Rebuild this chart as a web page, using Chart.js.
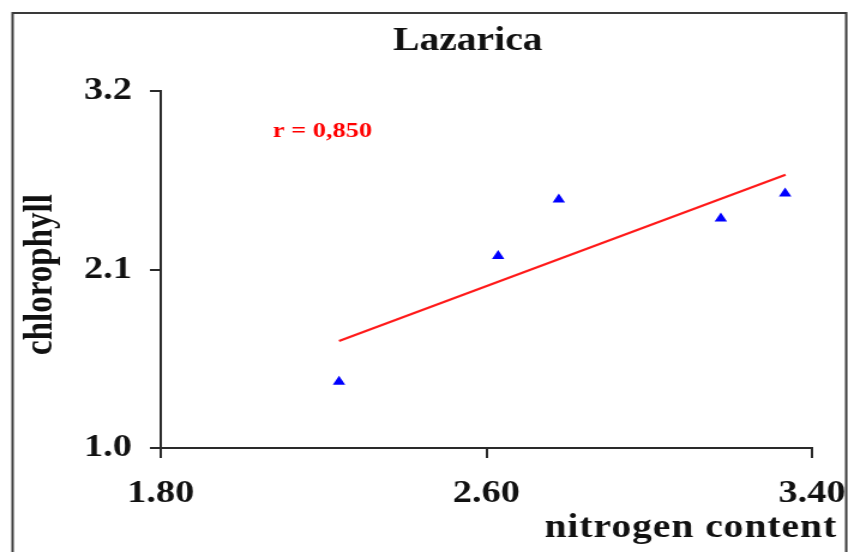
<!DOCTYPE html>
<html>
<head>
<meta charset="utf-8">
<title>Lazarica</title>
<script src="https://cdn.jsdelivr.net/npm/chart.js@4.4.1/dist/chart.umd.min.js"></script>
<style>
    html, body { margin: 0; padding: 0; background: #fff; overflow: hidden; }
    /* the original figure is drawn 1.2x wider than tall, text included */
    #wrap {
        width: 707px;
        height: 552px;
        transform: scaleX(1.1994);
        transform-origin: 0 0;
    }
</style>
</head>
<body>
<div id="wrap"><canvas id="chart" width="707" height="552"></canvas></div>
<script>
// --- Data ---

const nitrogen = [2.238, 2.629, 2.778, 3.176, 3.334];
const chlorophyll = [1.408, 2.183, 2.531, 2.414, 2.568];

// regression line end points
const trendX = [2.238, 3.335];
const trendY = [1.660, 2.684];

const xTicks = [1.80, 2.60, 3.40];
const yTicks = [1.0, 2.1, 3.2];

const TITLE = "Lazarica";
const R_LABEL = "r = 0,850";
const X_TITLE = "nitrogen content";
const Y_TITLE = "chlorophyll";

const SERIF = "'Liberation Serif', 'Times New Roman', serif";
const AXIS_COLOR = "#2a2a2a";


// --- Text and frame drawn on top of the chart ---

const decorations = {
    id: "decorations",
    afterDraw(chart) {
        const ctx = chart.ctx;
        ctx.save();

        // outer frame
        ctx.strokeStyle = "#3a3a3a";
        ctx.lineWidth = 2;
        ctx.strokeRect(10.5, 13, 695, 560);

        ctx.fillStyle = "#111";
        ctx.font = "bold 33px " + SERIF;
        ctx.textAlign = "center";
        ctx.textBaseline = "alphabetic";
        ctx.fillText(TITLE, 390, 50);

        // correlation coefficient
        ctx.fillStyle = "#ff0000";
        ctx.font = "bold 22px " + SERIF;
        ctx.textAlign = "left";
        ctx.fillText(R_LABEL, 227.5, 137);

        // x axis title, right aligned under the last tick
        ctx.fillStyle = "#111";
        ctx.font = "bold 33px " + SERIF;
        ctx.textAlign = "right";
        if ("letterSpacing" in ctx) ctx.letterSpacing = "0.8px";
        ctx.fillText(X_TITLE, 698, 537);
        if ("letterSpacing" in ctx) ctx.letterSpacing = "0px";

        // y axis title
        ctx.translate(43, 274.5);
        ctx.rotate(-Math.PI / 2);
        ctx.textAlign = "center";
        ctx.fillText(Y_TITLE, 0, 0);

        ctx.restore();
    },
};

const axisStyle = {
    grid: {
        drawOnChartArea: false,
        drawTicks: true,
        color: AXIS_COLOR,
        lineWidth: 2,
    },
    border: { display: true, color: AXIS_COLOR, width: 2 },
};

new Chart(document.getElementById("chart"), {
    type: "scatter",
    data: {
        datasets: [
            {
                label: "measured",
                data: nitrogen.map((x, i) => ({ x, y: chlorophyll[i] })),
                pointStyle: "triangle",
                pointRadius: 6,
                pointBackgroundColor: "#0000ff",
                pointBorderColor: "#0000ff",
                pointBorderWidth: 0,
                order: 1,
            },
            {
                label: "trend",
                data: trendX.map((x, i) => ({ x, y: trendY[i] })),
                showLine: true,
                borderColor: "#ff1a1a",
                borderWidth: 2.2,
                pointRadius: 0,
                fill: false,
                order: 2,
            },
        ],
    },
    options: {
        responsive: false,
        animation: false,
        events: [],
        layout: { padding: { left: 0, right: 30, top: 91, bottom: 0 } },
        plugins: {
            legend: { display: false },
            tooltip: { enabled: false },
            title: { display: false },
        },
        scales: {
            x: {
                type: "linear",
                min: 1.8,
                max: 3.4,
                grid: Object.assign({}, axisStyle.grid, { tickLength: 10 }),
                border: axisStyle.border,
                afterBuildTicks: (scale) => {
                    scale.ticks = xTicks.map((v) => ({ value: v }));
                },
                afterFit: (scale) => {
                    scale.height = 104;
                    scale.paddingLeft = 0;
                    scale.paddingRight = 0;
                },
                ticks: {
                    padding: 17,
                    color: "#111",
                    font: { family: SERIF, size: 32, weight: "bold" },
                    maxRotation: 0,
                    callback: (v) => Number(v).toFixed(2),
                },
            },
            y: {
                type: "linear",
                min: 1.0,
                max: 3.2,
                grid: Object.assign({}, axisStyle.grid, { tickLength: 9 }),
                border: axisStyle.border,
                afterBuildTicks: (scale) => {
                    scale.ticks = yTicks.map((v) => ({ value: v }));
                },
                afterFit: (scale) => {
                    scale.width = 134;
                    scale.paddingTop = 0;
                    scale.paddingBottom = 0;
                },
                ticks: {
                    padding: 15,
                    color: "#111",
                    font: { family: SERIF, size: 32, weight: "bold" },
                    callback: (v) => Number(v).toFixed(1),
                },
            },
        },
    },
    plugins: [decorations],
});
</script>
</body>
</html>
